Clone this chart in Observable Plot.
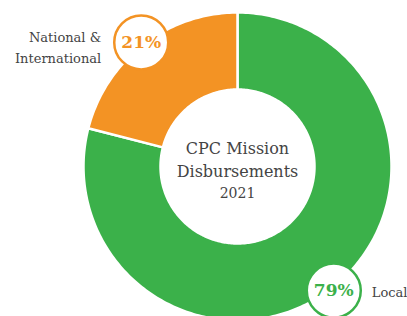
<!DOCTYPE html>
<html>
<head>
<meta charset="utf-8">
<script src="https://cdn.jsdelivr.net/npm/d3@7"></script>
<script src="https://cdn.jsdelivr.net/npm/@observablehq/plot@0.6"></script>
<style>
  html, body { margin: 0; padding: 0; background: #fff; }
  #chart svg { display: block; }
</style>
</head>
<body>
<div id="chart"></div>
<script>
// ---- data ----
const categories = ["Local", "National & International"];
const values = [79, 21];
const percentLabels = ["79%", "21%"];
const nameLabels = ["Local", "National &\nInternational"];
const colors = ["#3bb14a", "#f39324"];
const centerTitle = "CPC Mission\nDisbursements";
const centerYear = "2021";

// ---- layout helpers ----
const W = 407, H = 316;
const cx = 237, cy = 166, R = 154;      // pixel centre & outer radius
const innerR = 0.5;                       // inner radius relative to outer
const labelR = 1.02;                      // radius where label bubbles sit

const data = categories.map((name, i) => ({name, value: values[i], pct: percentLabels[i], label: nameLabels[i]}));
const arcs = d3.pie().sort(null).value(d => d.value)(data);

// polygon outline for each slice (angles clockwise from 12 o'clock)
const pts = [];
for (const a of arcs) {
  const n = Math.max(2, Math.ceil((a.endAngle - a.startAngle) / (Math.PI / 180)));
  for (let k = 0; k <= n; k++) {
    const t = a.startAngle + (a.endAngle - a.startAngle) * k / n;
    pts.push({name: a.data.name, x: Math.sin(t), y: Math.cos(t)});
  }
  for (let k = n; k >= 0; k--) {
    const t = a.startAngle + (a.endAngle - a.startAngle) * k / n;
    pts.push({name: a.data.name, x: innerR * Math.sin(t), y: innerR * Math.cos(t)});
  }
}

const bubbles = arcs.map(a => {
  const m = (a.startAngle + a.endAngle) / 2;
  return {...a.data, x: labelR * Math.sin(m), y: labelR * Math.cos(m)};
});

const font = "'DejaVu Serif', serif";

const chart = Plot.plot({
  width: W,
  height: H,
  margin: 0,
  x: {axis: null, domain: [-cx / R, (W - cx) / R]},
  y: {axis: null, domain: [-(H - cy) / R, cy / R]},
  color: {domain: categories, range: colors},
  style: {fontFamily: font, background: "#fff"},
  marks: [
    Plot.line(pts, {x: "x", y: "y", z: "name", fill: "name", stroke: "white", strokeWidth: 2.5, curve: "linear-closed"}),
    Plot.dot(bubbles, {x: "x", y: "y", r: 27, fill: "white", stroke: "name", strokeWidth: 2.5}),
    Plot.text(bubbles, {x: "x", y: "y", text: "pct", fill: "name", fontWeight: "bold", fontSize: 17}),
    Plot.text(bubbles.filter(d => d.name === "National & International"), {x: "x", y: "y", text: "label", textAnchor: "end", dx: -40, dy: 3, fontSize: 13, lineHeight: 1.65, fill: "#444"}),
    Plot.text(bubbles.filter(d => d.name === "Local"), {x: "x", y: "y", text: "label", textAnchor: "start", dx: 38, dy: 2, fontSize: 13, fill: "#444"}),
    Plot.text([centerTitle], {x: () => 0, y: () => 0, text: d => d, dy: -8, fontSize: 16, lineHeight: 1.4, fill: "#444"}),
    Plot.text([centerYear], {x: () => 0, y: () => 0, text: d => d, dy: 27, fontSize: 14, fill: "#444"})
  ]
});

document.getElementById("chart").appendChild(chart);
</script>
</body>
</html>
